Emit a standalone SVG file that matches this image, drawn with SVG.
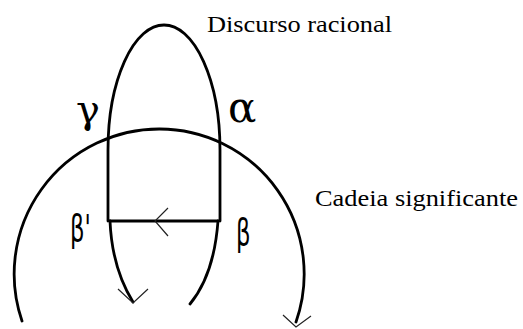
<svg xmlns="http://www.w3.org/2000/svg" width="523" height="329" viewBox="0 0 523 329">
<style>
.line{fill:none;stroke:#000;stroke-width:2.8;stroke-linecap:round;stroke-linejoin:round}
.head{fill:none;stroke:#222;stroke-width:1.2}
.lbl{font-family:"Liberation Serif","Times New Roman",serif;font-size:24px;fill:#000}
.greek{font-family:"DejaVu Serif","Liberation Serif",serif;fill:#000}
.beta{font-family:"DejaVu Sans","Liberation Sans",sans-serif;font-size:38px;fill:#000}
</style>
<rect width="523" height="329" fill="#fff"/>
<g id="connectors">
<path class="line" d="M22,321 A145,145 0 1 1 296,322"/>
<path class="line" d="M108,221 L108,150 A56,125 0 0 1 220,150 L220,221"/>
<path class="line" d="M110,221 Q112,268 133,302"/>
<path class="line" d="M218,221 Q214,275 190,304"/>
<path class="line" d="M110,221 L218,221"/>
<path class="head" d="M168,208 L155,221 L168,236"/>
<path class="head" d="M118,289 L133,303 L148,289"/>
<path class="head" d="M283,315 L296,327 L311,316"/>
</g>
<g id="discurso"><text class="lbl" x="207" y="32" textLength="185" lengthAdjust="spacingAndGlyphs">Discurso racional</text></g>
<g id="cadeia"><text class="lbl" x="315" y="206" textLength="203" lengthAdjust="spacingAndGlyphs">Cadeia significante</text></g>
<g id="gamma"><text class="greek" x="76" y="123" font-size="40">γ</text></g>
<g id="alpha"><text class="greek" x="228" y="122" font-size="42">α</text></g>
<g id="betaprime"><text class="beta" transform="translate(70,241) scale(0.6,1)">β'</text></g>
<g id="beta"><text class="beta" transform="translate(236,245) scale(0.6,1)">β</text></g>
</svg>
